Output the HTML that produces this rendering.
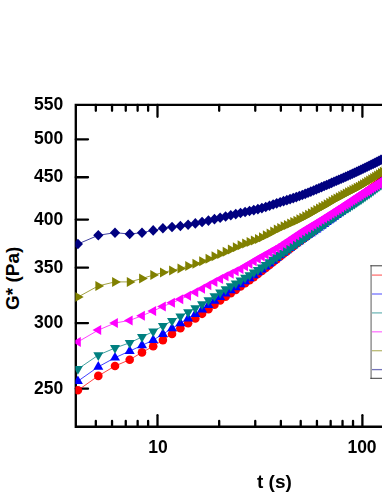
<!DOCTYPE html><html><head><meta charset="utf-8"><title>chart</title><style>
html,body{margin:0;padding:0;background:#fff;}
body{width:382px;height:494px;position:relative;overflow:hidden;font-family:"Liberation Sans",sans-serif;font-weight:bold;color:#000;}
.yl{will-change:transform;position:absolute;right:319.0px;font-size:17.5px;line-height:20px;height:20px;white-space:nowrap;}
.xl{will-change:transform;position:absolute;font-size:17.5px;line-height:20px;height:20px;white-space:nowrap;transform:translateX(-50%);}
.xt{will-change:transform;position:absolute;font-size:19px;line-height:22px;white-space:nowrap;}
.yt{position:absolute;font-size:19px;line-height:22px;white-space:nowrap;transform-origin:0 0;transform:rotate(-90deg);}
</style></head><body>
<svg width="382" height="494" viewBox="0 0 382 494" style="position:absolute;left:0;top:0">
<defs><clipPath id="c"><rect x="75.40" y="104.85" width="400" height="321.9"/></clipPath></defs>
<g stroke="#000" stroke-width="2.35" fill="none" stroke-linecap="butt">
<path d="M75.8 427.925L75.8 103.675M74.625 104.85L387 104.85M74.625 426.75L387 426.75"/>
</g>
<g stroke="#000" stroke-width="2.3" fill="none" stroke-linecap="round">
<path d="M75.8 139.37L88.0 139.37"/>
<path d="M75.8 177.26L88.0 177.26"/>
<path d="M75.8 219.61L88.0 219.61"/>
<path d="M75.8 267.63L88.0 267.63"/>
<path d="M75.8 323.06L88.0 323.06"/>
<path d="M75.8 388.63L88.0 388.63"/>
<path d="M95.82 426.75L95.82 420.95"/>
<path d="M95.82 104.85L95.82 110.75"/>
<path d="M112.04 426.75L112.04 420.95"/>
<path d="M112.04 104.85L112.04 110.75"/>
<path d="M125.76 426.75L125.76 420.95"/>
<path d="M125.76 104.85L125.76 110.75"/>
<path d="M137.64 426.75L137.64 420.95"/>
<path d="M137.64 104.85L137.64 110.75"/>
<path d="M148.12 426.75L148.12 420.95"/>
<path d="M148.12 104.85L148.12 110.75"/>
<path d="M157.50 426.75L157.50 415.15"/>
<path d="M157.50 104.85L157.50 116.75"/>
<path d="M219.18 426.75L219.18 420.95"/>
<path d="M219.18 104.85L219.18 110.75"/>
<path d="M255.26 426.75L255.26 420.95"/>
<path d="M255.26 104.85L255.26 110.75"/>
<path d="M280.86 426.75L280.86 420.95"/>
<path d="M280.86 104.85L280.86 110.75"/>
<path d="M300.72 426.75L300.72 420.95"/>
<path d="M300.72 104.85L300.72 110.75"/>
<path d="M316.94 426.75L316.94 420.95"/>
<path d="M316.94 104.85L316.94 110.75"/>
<path d="M330.66 426.75L330.66 420.95"/>
<path d="M330.66 104.85L330.66 110.75"/>
<path d="M342.54 426.75L342.54 420.95"/>
<path d="M342.54 104.85L342.54 110.75"/>
<path d="M353.02 426.75L353.02 420.95"/>
<path d="M353.02 104.85L353.02 110.75"/>
<path d="M362.40 426.75L362.40 415.15"/>
<path d="M362.40 104.85L362.40 116.75"/>
</g>
<g clip-path="url(#c)">
<path d="M77.90 390.30L98.30 375.90L115.00 366.00L129.70 359.70L142.00 352.40L153.20 346.30L162.90 340.10L172.03 333.93L180.38 328.24L188.12 323.18L195.33 318.47L202.08 313.83L208.44 309.15L214.46 304.64L220.16 300.48L225.60 296.72L230.78 293.20L235.75 289.84L240.51 286.54L245.10 283.32L249.51 280.18L253.77 277.11L257.89 274.08L261.88 271.06L265.75 268.03L269.51 265.02L273.16 262.07L276.72 259.21L280.18 256.46L283.56 253.79L286.86 251.20L290.08 248.67L293.23 246.21L296.31 243.82L299.33 241.51L302.29 239.27L305.20 237.09L308.04 234.97L310.84 232.91L313.59 230.89L316.29 228.91L318.94 226.97L321.55 225.07L324.13 223.21L326.66 221.39L329.15 219.60L331.61 217.85L334.04 216.11L336.43 214.39L338.79 212.68L341.12 210.98L343.43 209.29L345.70 207.61L347.95 205.95L350.17 204.30L352.36 202.67L354.53 201.05L356.68 199.46L358.80 197.88L360.91 196.33L362.99 194.79L365.05 193.27L367.09 191.77L369.11 190.28L371.12 188.80L373.10 187.34L375.07 185.89L377.02 184.46L378.96 183.03L380.88 181.62L382.78 180.23L384.67 178.84L386.54 177.46L388.40 176.10" fill="none" stroke="#ff0000" stroke-width="0.75"/>
<g fill="#ff0000">
<circle cx="77.90" cy="390.30" r="4.3"/>
<circle cx="98.30" cy="375.90" r="4.3"/>
<circle cx="115.00" cy="366.00" r="4.3"/>
<circle cx="129.70" cy="359.70" r="4.3"/>
<circle cx="142.00" cy="352.40" r="4.3"/>
<circle cx="153.20" cy="346.30" r="4.3"/>
<circle cx="162.90" cy="340.10" r="4.3"/>
<circle cx="172.03" cy="333.93" r="4.3"/>
<circle cx="180.38" cy="328.24" r="4.3"/>
<circle cx="188.12" cy="323.18" r="4.3"/>
<circle cx="195.33" cy="318.47" r="4.3"/>
<circle cx="202.08" cy="313.83" r="4.3"/>
<circle cx="208.44" cy="309.15" r="4.3"/>
<circle cx="214.46" cy="304.64" r="4.3"/>
<circle cx="220.16" cy="300.48" r="4.3"/>
<circle cx="225.60" cy="296.72" r="4.3"/>
<circle cx="230.78" cy="293.20" r="4.3"/>
<circle cx="235.75" cy="289.84" r="4.3"/>
<circle cx="240.51" cy="286.54" r="4.3"/>
<circle cx="245.10" cy="283.32" r="4.3"/>
<circle cx="249.51" cy="280.18" r="4.3"/>
<circle cx="253.77" cy="277.11" r="4.3"/>
<circle cx="257.89" cy="274.08" r="4.3"/>
<circle cx="261.88" cy="271.06" r="4.3"/>
<circle cx="265.75" cy="268.03" r="4.3"/>
<circle cx="269.51" cy="265.02" r="4.3"/>
<circle cx="273.16" cy="262.07" r="4.3"/>
<circle cx="276.72" cy="259.21" r="4.3"/>
<circle cx="280.18" cy="256.46" r="4.3"/>
<circle cx="283.56" cy="253.79" r="4.3"/>
<circle cx="286.86" cy="251.20" r="4.3"/>
<circle cx="290.08" cy="248.67" r="4.3"/>
<circle cx="293.23" cy="246.21" r="4.3"/>
<circle cx="296.31" cy="243.82" r="4.3"/>
<circle cx="299.33" cy="241.51" r="4.3"/>
<circle cx="302.29" cy="239.27" r="4.3"/>
<circle cx="305.20" cy="237.09" r="4.3"/>
<circle cx="308.04" cy="234.97" r="4.3"/>
<circle cx="310.84" cy="232.91" r="4.3"/>
<circle cx="313.59" cy="230.89" r="4.3"/>
<circle cx="316.29" cy="228.91" r="4.3"/>
<circle cx="318.94" cy="226.97" r="4.3"/>
<circle cx="321.55" cy="225.07" r="4.3"/>
<circle cx="324.13" cy="223.21" r="4.3"/>
<circle cx="326.66" cy="221.39" r="4.3"/>
<circle cx="329.15" cy="219.60" r="4.3"/>
<circle cx="331.61" cy="217.85" r="4.3"/>
<circle cx="334.04" cy="216.11" r="4.3"/>
<circle cx="336.43" cy="214.39" r="4.3"/>
<circle cx="338.79" cy="212.68" r="4.3"/>
<circle cx="341.12" cy="210.98" r="4.3"/>
<circle cx="343.43" cy="209.29" r="4.3"/>
<circle cx="345.70" cy="207.61" r="4.3"/>
<circle cx="347.95" cy="205.95" r="4.3"/>
<circle cx="350.17" cy="204.30" r="4.3"/>
<circle cx="352.36" cy="202.67" r="4.3"/>
<circle cx="354.53" cy="201.05" r="4.3"/>
<circle cx="356.68" cy="199.46" r="4.3"/>
<circle cx="358.80" cy="197.88" r="4.3"/>
<circle cx="360.91" cy="196.33" r="4.3"/>
<circle cx="362.99" cy="194.79" r="4.3"/>
<circle cx="365.05" cy="193.27" r="4.3"/>
<circle cx="367.09" cy="191.77" r="4.3"/>
<circle cx="369.11" cy="190.28" r="4.3"/>
<circle cx="371.12" cy="188.80" r="4.3"/>
<circle cx="373.10" cy="187.34" r="4.3"/>
<circle cx="375.07" cy="185.89" r="4.3"/>
<circle cx="377.02" cy="184.46" r="4.3"/>
<circle cx="378.96" cy="183.03" r="4.3"/>
<circle cx="380.88" cy="181.62" r="4.3"/>
<circle cx="382.78" cy="180.23" r="4.3"/>
<circle cx="384.67" cy="178.84" r="4.3"/>
<circle cx="386.54" cy="177.46" r="4.3"/>
<circle cx="388.40" cy="176.10" r="4.3"/>
</g>
<path d="M77.90 381.20L98.30 366.80L115.00 357.70L129.70 351.10L142.00 345.40L153.20 340.10L162.90 334.10L172.03 328.45L180.38 323.26L188.12 318.49L195.33 314.01L202.08 309.61L208.44 305.20L214.46 300.96L220.16 297.09L225.60 293.65L230.78 290.47L235.75 287.42L240.51 284.36L245.10 281.31L249.51 278.31L253.77 275.35L257.89 272.42L261.88 269.52L265.75 266.60L269.51 263.70L273.16 260.85L276.72 258.10L280.18 255.46L283.56 252.92L286.86 250.45L290.08 248.05L293.23 245.72L296.31 243.46L299.33 241.28L302.29 239.17L305.20 237.14L308.04 235.17L310.84 233.24L313.59 231.36L316.29 229.49L318.94 227.64L321.55 225.80L324.13 223.98L326.66 222.17L329.15 220.39L331.61 218.62L334.04 216.88L336.43 215.16L338.79 213.47L341.12 211.79L343.43 210.14L345.70 208.52L347.95 206.91L350.17 205.32L352.36 203.74L354.53 202.18L356.68 200.62L358.80 199.07L360.91 197.54L362.99 196.01L365.05 194.49L367.09 192.98L369.11 191.48L371.12 189.99L373.10 188.50L375.07 187.03L377.02 185.56L378.96 184.10L380.88 182.65L382.78 181.21L384.67 179.77L386.54 178.34L388.40 176.91" fill="none" stroke="#0000ff" stroke-width="0.75"/>
<g fill="#0000ff">
<path d="M72.90 384.10L82.90 384.10L77.90 375.40Z"/>
<path d="M93.30 369.70L103.30 369.70L98.30 361.00Z"/>
<path d="M110.00 360.60L120.00 360.60L115.00 351.90Z"/>
<path d="M124.70 354.00L134.70 354.00L129.70 345.30Z"/>
<path d="M137.00 348.30L147.00 348.30L142.00 339.60Z"/>
<path d="M148.20 343.00L158.20 343.00L153.20 334.30Z"/>
<path d="M157.90 337.00L167.90 337.00L162.90 328.30Z"/>
<path d="M167.03 331.35L177.03 331.35L172.03 322.65Z"/>
<path d="M175.38 326.16L185.38 326.16L180.38 317.46Z"/>
<path d="M183.12 321.39L193.12 321.39L188.12 312.69Z"/>
<path d="M190.33 316.91L200.33 316.91L195.33 308.21Z"/>
<path d="M197.08 312.51L207.08 312.51L202.08 303.81Z"/>
<path d="M203.44 308.10L213.44 308.10L208.44 299.40Z"/>
<path d="M209.46 303.86L219.46 303.86L214.46 295.16Z"/>
<path d="M215.16 299.99L225.16 299.99L220.16 291.29Z"/>
<path d="M220.60 296.55L230.60 296.55L225.60 287.85Z"/>
<path d="M225.78 293.37L235.78 293.37L230.78 284.67Z"/>
<path d="M230.75 290.32L240.75 290.32L235.75 281.62Z"/>
<path d="M235.51 287.26L245.51 287.26L240.51 278.56Z"/>
<path d="M240.10 284.21L250.10 284.21L245.10 275.51Z"/>
<path d="M244.51 281.21L254.51 281.21L249.51 272.51Z"/>
<path d="M248.77 278.25L258.77 278.25L253.77 269.55Z"/>
<path d="M252.89 275.32L262.89 275.32L257.89 266.62Z"/>
<path d="M256.88 272.42L266.88 272.42L261.88 263.72Z"/>
<path d="M260.75 269.50L270.75 269.50L265.75 260.80Z"/>
<path d="M264.51 266.60L274.51 266.60L269.51 257.90Z"/>
<path d="M268.16 263.75L278.16 263.75L273.16 255.05Z"/>
<path d="M271.72 261.00L281.72 261.00L276.72 252.30Z"/>
<path d="M275.18 258.36L285.18 258.36L280.18 249.66Z"/>
<path d="M278.56 255.82L288.56 255.82L283.56 247.12Z"/>
<path d="M281.86 253.35L291.86 253.35L286.86 244.65Z"/>
<path d="M285.08 250.95L295.08 250.95L290.08 242.25Z"/>
<path d="M288.23 248.62L298.23 248.62L293.23 239.92Z"/>
<path d="M291.31 246.36L301.31 246.36L296.31 237.66Z"/>
<path d="M294.33 244.18L304.33 244.18L299.33 235.48Z"/>
<path d="M297.29 242.07L307.29 242.07L302.29 233.37Z"/>
<path d="M300.20 240.04L310.20 240.04L305.20 231.34Z"/>
<path d="M303.04 238.07L313.04 238.07L308.04 229.37Z"/>
<path d="M305.84 236.14L315.84 236.14L310.84 227.44Z"/>
<path d="M308.59 234.26L318.59 234.26L313.59 225.56Z"/>
<path d="M311.29 232.39L321.29 232.39L316.29 223.69Z"/>
<path d="M313.94 230.54L323.94 230.54L318.94 221.84Z"/>
<path d="M316.55 228.70L326.55 228.70L321.55 220.00Z"/>
<path d="M319.13 226.88L329.13 226.88L324.13 218.18Z"/>
<path d="M321.66 225.07L331.66 225.07L326.66 216.37Z"/>
<path d="M324.15 223.29L334.15 223.29L329.15 214.59Z"/>
<path d="M326.61 221.52L336.61 221.52L331.61 212.82Z"/>
<path d="M329.04 219.78L339.04 219.78L334.04 211.08Z"/>
<path d="M331.43 218.06L341.43 218.06L336.43 209.36Z"/>
<path d="M333.79 216.37L343.79 216.37L338.79 207.67Z"/>
<path d="M336.12 214.69L346.12 214.69L341.12 205.99Z"/>
<path d="M338.43 213.04L348.43 213.04L343.43 204.34Z"/>
<path d="M340.70 211.42L350.70 211.42L345.70 202.72Z"/>
<path d="M342.95 209.81L352.95 209.81L347.95 201.11Z"/>
<path d="M345.17 208.22L355.17 208.22L350.17 199.52Z"/>
<path d="M347.36 206.64L357.36 206.64L352.36 197.94Z"/>
<path d="M349.53 205.08L359.53 205.08L354.53 196.38Z"/>
<path d="M351.68 203.52L361.68 203.52L356.68 194.82Z"/>
<path d="M353.80 201.97L363.80 201.97L358.80 193.27Z"/>
<path d="M355.91 200.44L365.91 200.44L360.91 191.74Z"/>
<path d="M357.99 198.91L367.99 198.91L362.99 190.21Z"/>
<path d="M360.05 197.39L370.05 197.39L365.05 188.69Z"/>
<path d="M362.09 195.88L372.09 195.88L367.09 187.18Z"/>
<path d="M364.11 194.38L374.11 194.38L369.11 185.68Z"/>
<path d="M366.12 192.89L376.12 192.89L371.12 184.19Z"/>
<path d="M368.10 191.40L378.10 191.40L373.10 182.70Z"/>
<path d="M370.07 189.93L380.07 189.93L375.07 181.23Z"/>
<path d="M372.02 188.46L382.02 188.46L377.02 179.76Z"/>
<path d="M373.96 187.00L383.96 187.00L378.96 178.30Z"/>
<path d="M375.88 185.55L385.88 185.55L380.88 176.85Z"/>
<path d="M377.78 184.11L387.78 184.11L382.78 175.41Z"/>
<path d="M379.67 182.67L389.67 182.67L384.67 173.97Z"/>
<path d="M381.54 181.24L391.54 181.24L386.54 172.54Z"/>
<path d="M383.40 179.81L393.40 179.81L388.40 171.11Z"/>
</g>
<path d="M77.90 369.00L98.30 355.10L115.00 348.00L129.70 342.80L142.00 337.00L153.20 331.50L162.90 325.80L172.03 320.80L180.38 316.29L188.12 312.13L195.33 308.20L202.08 304.23L208.44 300.09L214.46 296.06L220.16 292.40L225.60 289.15L230.78 286.15L235.75 283.30L240.51 280.49L245.10 277.76L249.51 275.11L253.77 272.51L257.89 269.94L261.88 267.38L265.75 264.81L269.51 262.25L273.16 259.73L276.72 257.27L280.18 254.87L283.56 252.53L286.86 250.23L290.08 247.97L293.23 245.75L296.31 243.59L299.33 241.47L302.29 239.39L305.20 237.36L308.04 235.37L310.84 233.41L313.59 231.49L316.29 229.60L318.94 227.74L321.55 225.91L324.13 224.09L326.66 222.30L329.15 220.53L331.61 218.80L334.04 217.10L336.43 215.43L338.79 213.82L341.12 212.25L343.43 210.73L345.70 209.27L347.95 207.83L350.17 206.42L352.36 205.03L354.53 203.63L356.68 202.23L358.80 200.81L360.91 199.38L362.99 197.93L365.05 196.49L367.09 195.04L369.11 193.59L371.12 192.14L373.10 190.69L375.07 189.23L377.02 187.78L378.96 186.32L380.88 184.86L382.78 183.40L384.67 181.94L386.54 180.47L388.40 179.01" fill="none" stroke="#008080" stroke-width="0.75"/>
<g fill="#008080">
<path d="M72.90 366.10L82.90 366.10L77.90 374.80Z"/>
<path d="M93.30 352.20L103.30 352.20L98.30 360.90Z"/>
<path d="M110.00 345.10L120.00 345.10L115.00 353.80Z"/>
<path d="M124.70 339.90L134.70 339.90L129.70 348.60Z"/>
<path d="M137.00 334.10L147.00 334.10L142.00 342.80Z"/>
<path d="M148.20 328.60L158.20 328.60L153.20 337.30Z"/>
<path d="M157.90 322.90L167.90 322.90L162.90 331.60Z"/>
<path d="M167.03 317.90L177.03 317.90L172.03 326.60Z"/>
<path d="M175.38 313.39L185.38 313.39L180.38 322.09Z"/>
<path d="M183.12 309.23L193.12 309.23L188.12 317.93Z"/>
<path d="M190.33 305.30L200.33 305.30L195.33 314.00Z"/>
<path d="M197.08 301.33L207.08 301.33L202.08 310.03Z"/>
<path d="M203.44 297.19L213.44 297.19L208.44 305.89Z"/>
<path d="M209.46 293.16L219.46 293.16L214.46 301.86Z"/>
<path d="M215.16 289.50L225.16 289.50L220.16 298.20Z"/>
<path d="M220.60 286.25L230.60 286.25L225.60 294.95Z"/>
<path d="M225.78 283.25L235.78 283.25L230.78 291.95Z"/>
<path d="M230.75 280.40L240.75 280.40L235.75 289.10Z"/>
<path d="M235.51 277.59L245.51 277.59L240.51 286.29Z"/>
<path d="M240.10 274.86L250.10 274.86L245.10 283.56Z"/>
<path d="M244.51 272.21L254.51 272.21L249.51 280.91Z"/>
<path d="M248.77 269.61L258.77 269.61L253.77 278.31Z"/>
<path d="M252.89 267.04L262.89 267.04L257.89 275.74Z"/>
<path d="M256.88 264.48L266.88 264.48L261.88 273.18Z"/>
<path d="M260.75 261.91L270.75 261.91L265.75 270.61Z"/>
<path d="M264.51 259.35L274.51 259.35L269.51 268.05Z"/>
<path d="M268.16 256.83L278.16 256.83L273.16 265.53Z"/>
<path d="M271.72 254.37L281.72 254.37L276.72 263.07Z"/>
<path d="M275.18 251.97L285.18 251.97L280.18 260.67Z"/>
<path d="M278.56 249.63L288.56 249.63L283.56 258.33Z"/>
<path d="M281.86 247.33L291.86 247.33L286.86 256.03Z"/>
<path d="M285.08 245.07L295.08 245.07L290.08 253.77Z"/>
<path d="M288.23 242.85L298.23 242.85L293.23 251.55Z"/>
<path d="M291.31 240.69L301.31 240.69L296.31 249.39Z"/>
<path d="M294.33 238.57L304.33 238.57L299.33 247.27Z"/>
<path d="M297.29 236.49L307.29 236.49L302.29 245.19Z"/>
<path d="M300.20 234.46L310.20 234.46L305.20 243.16Z"/>
<path d="M303.04 232.47L313.04 232.47L308.04 241.17Z"/>
<path d="M305.84 230.51L315.84 230.51L310.84 239.21Z"/>
<path d="M308.59 228.59L318.59 228.59L313.59 237.29Z"/>
<path d="M311.29 226.70L321.29 226.70L316.29 235.40Z"/>
<path d="M313.94 224.84L323.94 224.84L318.94 233.54Z"/>
<path d="M316.55 223.01L326.55 223.01L321.55 231.71Z"/>
<path d="M319.13 221.19L329.13 221.19L324.13 229.89Z"/>
<path d="M321.66 219.40L331.66 219.40L326.66 228.10Z"/>
<path d="M324.15 217.63L334.15 217.63L329.15 226.33Z"/>
<path d="M326.61 215.90L336.61 215.90L331.61 224.60Z"/>
<path d="M329.04 214.20L339.04 214.20L334.04 222.90Z"/>
<path d="M331.43 212.53L341.43 212.53L336.43 221.23Z"/>
<path d="M333.79 210.92L343.79 210.92L338.79 219.62Z"/>
<path d="M336.12 209.35L346.12 209.35L341.12 218.05Z"/>
<path d="M338.43 207.83L348.43 207.83L343.43 216.53Z"/>
<path d="M340.70 206.37L350.70 206.37L345.70 215.07Z"/>
<path d="M342.95 204.93L352.95 204.93L347.95 213.63Z"/>
<path d="M345.17 203.52L355.17 203.52L350.17 212.22Z"/>
<path d="M347.36 202.13L357.36 202.13L352.36 210.83Z"/>
<path d="M349.53 200.73L359.53 200.73L354.53 209.43Z"/>
<path d="M351.68 199.33L361.68 199.33L356.68 208.03Z"/>
<path d="M353.80 197.91L363.80 197.91L358.80 206.61Z"/>
<path d="M355.91 196.48L365.91 196.48L360.91 205.18Z"/>
<path d="M357.99 195.03L367.99 195.03L362.99 203.73Z"/>
<path d="M360.05 193.59L370.05 193.59L365.05 202.29Z"/>
<path d="M362.09 192.14L372.09 192.14L367.09 200.84Z"/>
<path d="M364.11 190.69L374.11 190.69L369.11 199.39Z"/>
<path d="M366.12 189.24L376.12 189.24L371.12 197.94Z"/>
<path d="M368.10 187.79L378.10 187.79L373.10 196.49Z"/>
<path d="M370.07 186.33L380.07 186.33L375.07 195.03Z"/>
<path d="M372.02 184.88L382.02 184.88L377.02 193.58Z"/>
<path d="M373.96 183.42L383.96 183.42L378.96 192.12Z"/>
<path d="M375.88 181.96L385.88 181.96L380.88 190.66Z"/>
<path d="M377.78 180.50L387.78 180.50L382.78 189.20Z"/>
<path d="M379.67 179.04L389.67 179.04L384.67 187.74Z"/>
<path d="M381.54 177.57L391.54 177.57L386.54 186.27Z"/>
<path d="M383.40 176.11L393.40 176.11L388.40 184.81Z"/>
</g>
<path d="M77.90 341.90L98.30 330.10L115.00 323.00L129.70 320.40L142.00 315.70L153.20 311.00L162.90 306.50L172.03 302.78L180.38 299.33L188.12 295.73L195.33 292.17L202.08 288.72L208.44 285.27L214.46 281.95L220.16 278.92L225.60 276.24L230.78 273.77L235.75 271.37L240.51 268.93L245.10 266.37L249.51 263.79L253.77 261.25L257.89 258.82L261.88 256.53L265.75 254.38L269.51 252.32L273.16 250.29L276.72 248.26L280.18 246.19L283.56 244.05L286.86 241.85L290.08 239.66L293.23 237.50L296.31 235.41L299.33 233.43L302.29 231.56L305.20 229.77L308.04 228.04L310.84 226.35L313.59 224.71L316.29 223.08L318.94 221.45L321.55 219.84L324.13 218.23L326.66 216.65L329.15 215.08L331.61 213.53L334.04 212.00L336.43 210.48L338.79 208.97L341.12 207.48L343.43 205.99L345.70 204.51L347.95 203.05L350.17 201.59L352.36 200.16L354.53 198.74L356.68 197.34L358.80 195.97L360.91 194.62L362.99 193.29L365.05 191.97L367.09 190.68L369.11 189.39L371.12 188.12L373.10 186.87L375.07 185.63L377.02 184.41L378.96 183.20L380.88 182.00L382.78 180.81L384.67 179.64L386.54 178.48L388.40 177.33" fill="none" stroke="#ff00ff" stroke-width="0.75"/>
<g fill="#ff00ff">
<path d="M80.80 336.90L80.80 346.90L72.10 341.90Z"/>
<path d="M101.20 325.10L101.20 335.10L92.50 330.10Z"/>
<path d="M117.90 318.00L117.90 328.00L109.20 323.00Z"/>
<path d="M132.60 315.40L132.60 325.40L123.90 320.40Z"/>
<path d="M144.90 310.70L144.90 320.70L136.20 315.70Z"/>
<path d="M156.10 306.00L156.10 316.00L147.40 311.00Z"/>
<path d="M165.80 301.50L165.80 311.50L157.10 306.50Z"/>
<path d="M174.93 297.78L174.93 307.78L166.23 302.78Z"/>
<path d="M183.28 294.33L183.28 304.33L174.58 299.33Z"/>
<path d="M191.02 290.73L191.02 300.73L182.32 295.73Z"/>
<path d="M198.23 287.17L198.23 297.17L189.53 292.17Z"/>
<path d="M204.98 283.72L204.98 293.72L196.28 288.72Z"/>
<path d="M211.34 280.27L211.34 290.27L202.64 285.27Z"/>
<path d="M217.36 276.95L217.36 286.95L208.66 281.95Z"/>
<path d="M223.06 273.92L223.06 283.92L214.36 278.92Z"/>
<path d="M228.50 271.24L228.50 281.24L219.80 276.24Z"/>
<path d="M233.68 268.77L233.68 278.77L224.98 273.77Z"/>
<path d="M238.65 266.37L238.65 276.37L229.95 271.37Z"/>
<path d="M243.41 263.93L243.41 273.93L234.71 268.93Z"/>
<path d="M248.00 261.37L248.00 271.37L239.30 266.37Z"/>
<path d="M252.41 258.79L252.41 268.79L243.71 263.79Z"/>
<path d="M256.67 256.25L256.67 266.25L247.97 261.25Z"/>
<path d="M260.79 253.82L260.79 263.82L252.09 258.82Z"/>
<path d="M264.78 251.53L264.78 261.53L256.08 256.53Z"/>
<path d="M268.65 249.38L268.65 259.38L259.95 254.38Z"/>
<path d="M272.41 247.32L272.41 257.32L263.71 252.32Z"/>
<path d="M276.06 245.29L276.06 255.29L267.36 250.29Z"/>
<path d="M279.62 243.26L279.62 253.26L270.92 248.26Z"/>
<path d="M283.08 241.19L283.08 251.19L274.38 246.19Z"/>
<path d="M286.46 239.05L286.46 249.05L277.76 244.05Z"/>
<path d="M289.76 236.85L289.76 246.85L281.06 241.85Z"/>
<path d="M292.98 234.66L292.98 244.66L284.28 239.66Z"/>
<path d="M296.13 232.50L296.13 242.50L287.43 237.50Z"/>
<path d="M299.21 230.41L299.21 240.41L290.51 235.41Z"/>
<path d="M302.23 228.43L302.23 238.43L293.53 233.43Z"/>
<path d="M305.19 226.56L305.19 236.56L296.49 231.56Z"/>
<path d="M308.10 224.77L308.10 234.77L299.40 229.77Z"/>
<path d="M310.94 223.04L310.94 233.04L302.24 228.04Z"/>
<path d="M313.74 221.35L313.74 231.35L305.04 226.35Z"/>
<path d="M316.49 219.71L316.49 229.71L307.79 224.71Z"/>
<path d="M319.19 218.08L319.19 228.08L310.49 223.08Z"/>
<path d="M321.84 216.45L321.84 226.45L313.14 221.45Z"/>
<path d="M324.45 214.82L324.45 224.86L315.75 219.84Z"/>
<path d="M327.03 213.18L327.03 223.29L318.33 218.23Z"/>
<path d="M329.56 211.56L329.56 221.74L320.86 216.65Z"/>
<path d="M332.05 209.96L332.05 220.20L323.35 215.08Z"/>
<path d="M334.51 208.38L334.51 218.68L325.81 213.53Z"/>
<path d="M336.94 206.82L336.94 217.18L328.24 212.00Z"/>
<path d="M339.33 205.26L339.33 215.69L330.63 210.48Z"/>
<path d="M341.69 203.73L341.69 214.21L332.99 208.97Z"/>
<path d="M344.02 202.21L344.02 212.75L335.32 207.48Z"/>
<path d="M346.33 200.69L346.33 211.29L337.63 205.99Z"/>
<path d="M348.60 199.18L348.60 209.85L339.90 204.51Z"/>
<path d="M350.85 197.69L350.85 208.41L342.15 203.05Z"/>
<path d="M353.07 196.20L353.07 206.98L344.37 201.59Z"/>
<path d="M355.26 194.74L355.26 205.57L346.56 200.16Z"/>
<path d="M357.43 193.29L357.43 204.18L348.73 198.74Z"/>
<path d="M359.58 191.87L359.58 202.82L350.88 197.34Z"/>
<path d="M361.70 190.47L361.70 201.47L353.00 195.97Z"/>
<path d="M363.81 189.09L363.81 200.15L355.11 194.62Z"/>
<path d="M365.89 187.73L365.89 198.84L357.19 193.29Z"/>
<path d="M367.95 186.39L367.95 197.55L359.25 191.97Z"/>
<path d="M369.99 185.07L369.99 196.28L361.29 190.68Z"/>
<path d="M372.01 183.76L372.01 195.03L363.31 189.39Z"/>
<path d="M374.02 182.46L374.02 193.78L365.32 188.12Z"/>
<path d="M376.00 181.19L376.00 192.56L367.30 186.87Z"/>
<path d="M377.97 179.92L377.97 191.34L369.27 185.63Z"/>
<path d="M379.92 178.67L379.92 190.14L371.22 184.41Z"/>
<path d="M381.86 177.44L381.86 188.96L373.16 183.20Z"/>
<path d="M383.78 176.21L383.78 187.78L375.08 182.00Z"/>
<path d="M385.68 175.01L385.68 186.61L376.98 180.81Z"/>
<path d="M387.57 173.84L387.57 185.44L378.87 179.64Z"/>
<path d="M389.44 172.68L389.44 184.28L380.74 178.48Z"/>
<path d="M391.30 171.53L391.30 183.13L382.60 177.33Z"/>
</g>
<path d="M77.90 297.10L98.30 285.90L115.00 281.90L129.70 281.90L142.00 278.50L153.20 275.10L162.90 272.50L172.03 270.41L180.38 268.40L188.12 266.08L195.33 263.66L202.08 261.24L208.44 258.76L214.46 256.30L220.16 253.93L225.60 251.63L230.78 249.38L235.75 247.25L240.51 245.30L245.10 243.57L249.51 242.00L253.77 240.46L257.89 238.88L261.88 237.16L265.75 235.30L269.51 233.38L273.16 231.46L276.72 229.62L280.18 227.91L283.56 226.35L286.86 224.88L290.08 223.46L293.23 222.07L296.31 220.67L299.33 219.23L302.29 217.74L305.20 216.22L308.04 214.69L310.84 213.14L313.59 211.61L316.29 210.09L318.94 208.59L321.55 207.12L324.13 205.65L326.66 204.18L329.15 202.72L331.61 201.28L334.04 199.87L336.43 198.50L338.79 197.17L341.12 195.89L343.43 194.67L345.70 193.49L347.95 192.34L350.17 191.22L352.36 190.10L354.53 188.97L356.68 187.83L358.80 186.67L360.91 185.48L362.99 184.28L365.05 183.06L367.09 181.84L369.11 180.61L371.12 179.37L373.10 178.12L375.07 176.86L377.02 175.60L378.96 174.33L380.88 173.05L382.78 171.77L384.67 170.48L386.54 169.19L388.40 167.89" fill="none" stroke="#808000" stroke-width="0.75"/>
<g fill="#808000">
<path d="M75.00 292.10L75.00 302.10L83.70 297.10Z"/>
<path d="M95.40 280.90L95.40 290.90L104.10 285.90Z"/>
<path d="M112.10 276.90L112.10 286.90L120.80 281.90Z"/>
<path d="M126.80 276.90L126.80 286.90L135.50 281.90Z"/>
<path d="M139.10 273.50L139.10 283.50L147.80 278.50Z"/>
<path d="M150.30 270.10L150.30 280.10L159.00 275.10Z"/>
<path d="M160.00 267.50L160.00 277.50L168.70 272.50Z"/>
<path d="M169.13 265.41L169.13 275.41L177.83 270.41Z"/>
<path d="M177.48 263.40L177.48 273.40L186.18 268.40Z"/>
<path d="M185.22 261.08L185.22 271.08L193.92 266.08Z"/>
<path d="M192.43 258.66L192.43 268.66L201.13 263.66Z"/>
<path d="M199.18 256.24L199.18 266.24L207.88 261.24Z"/>
<path d="M205.54 253.76L205.54 263.76L214.24 258.76Z"/>
<path d="M211.56 251.30L211.56 261.30L220.26 256.30Z"/>
<path d="M217.26 248.93L217.26 258.93L225.96 253.93Z"/>
<path d="M222.70 246.63L222.70 256.63L231.40 251.63Z"/>
<path d="M227.88 244.38L227.88 254.38L236.58 249.38Z"/>
<path d="M232.85 242.25L232.85 252.25L241.55 247.25Z"/>
<path d="M237.61 240.30L237.61 250.30L246.31 245.30Z"/>
<path d="M242.20 238.57L242.20 248.57L250.90 243.57Z"/>
<path d="M246.61 237.00L246.61 247.00L255.31 242.00Z"/>
<path d="M250.87 235.46L250.87 245.46L259.57 240.46Z"/>
<path d="M254.99 233.88L254.99 243.88L263.69 238.88Z"/>
<path d="M258.98 232.16L258.98 242.16L267.68 237.16Z"/>
<path d="M262.85 230.30L262.85 240.30L271.55 235.30Z"/>
<path d="M266.61 228.38L266.61 238.38L275.31 233.38Z"/>
<path d="M270.26 226.46L270.26 236.46L278.96 231.46Z"/>
<path d="M273.82 224.62L273.82 234.62L282.52 229.62Z"/>
<path d="M277.28 222.91L277.28 232.91L285.98 227.91Z"/>
<path d="M280.66 221.35L280.66 231.35L289.36 226.35Z"/>
<path d="M283.96 219.88L283.96 229.88L292.66 224.88Z"/>
<path d="M287.18 218.46L287.18 228.46L295.88 223.46Z"/>
<path d="M290.33 217.07L290.33 227.07L299.03 222.07Z"/>
<path d="M293.41 215.67L293.41 225.67L302.11 220.67Z"/>
<path d="M296.43 214.23L296.43 224.23L305.13 219.23Z"/>
<path d="M299.39 212.74L299.39 222.74L308.09 217.74Z"/>
<path d="M302.30 211.22L302.30 221.22L311.00 216.22Z"/>
<path d="M305.14 209.69L305.14 219.69L313.84 214.69Z"/>
<path d="M307.94 208.14L307.94 218.14L316.64 213.14Z"/>
<path d="M310.69 206.61L310.69 216.61L319.39 211.61Z"/>
<path d="M313.39 205.09L313.39 215.09L322.09 210.09Z"/>
<path d="M316.04 203.59L316.04 213.59L324.74 208.59Z"/>
<path d="M318.65 202.12L318.65 212.12L327.35 207.12Z"/>
<path d="M321.23 200.65L321.23 210.65L329.93 205.65Z"/>
<path d="M323.76 199.18L323.76 209.18L332.46 204.18Z"/>
<path d="M326.25 197.72L326.25 207.72L334.95 202.72Z"/>
<path d="M328.71 196.28L328.71 206.28L337.41 201.28Z"/>
<path d="M331.14 194.87L331.14 204.87L339.84 199.87Z"/>
<path d="M333.53 193.50L333.53 203.50L342.23 198.50Z"/>
<path d="M335.89 192.17L335.89 202.17L344.59 197.17Z"/>
<path d="M338.22 190.89L338.22 200.89L346.92 195.89Z"/>
<path d="M340.53 189.67L340.53 199.67L349.23 194.67Z"/>
<path d="M342.80 188.49L342.80 198.49L351.50 193.49Z"/>
<path d="M345.05 187.34L345.05 197.34L353.75 192.34Z"/>
<path d="M347.27 186.22L347.27 196.22L355.97 191.22Z"/>
<path d="M349.46 185.10L349.46 195.10L358.16 190.10Z"/>
<path d="M351.63 183.97L351.63 193.97L360.33 188.97Z"/>
<path d="M353.78 182.83L353.78 192.83L362.48 187.83Z"/>
<path d="M355.90 181.67L355.90 191.67L364.60 186.67Z"/>
<path d="M358.01 180.48L358.01 190.48L366.71 185.48Z"/>
<path d="M360.09 179.28L360.09 189.28L368.79 184.28Z"/>
<path d="M362.15 178.06L362.15 188.06L370.85 183.06Z"/>
<path d="M364.19 176.84L364.19 186.84L372.89 181.84Z"/>
<path d="M366.21 175.61L366.21 185.61L374.91 180.61Z"/>
<path d="M368.22 174.37L368.22 184.37L376.92 179.37Z"/>
<path d="M370.20 173.12L370.20 183.12L378.90 178.12Z"/>
<path d="M372.17 171.86L372.17 181.86L380.87 176.86Z"/>
<path d="M374.12 170.60L374.12 180.60L382.82 175.60Z"/>
<path d="M376.06 169.33L376.06 179.33L384.76 174.33Z"/>
<path d="M377.98 168.05L377.98 178.05L386.68 173.05Z"/>
<path d="M379.88 166.77L379.88 176.77L388.58 171.77Z"/>
<path d="M381.77 165.48L381.77 175.48L390.47 170.48Z"/>
<path d="M383.64 164.19L383.64 174.19L392.34 169.19Z"/>
<path d="M385.50 162.89L385.50 172.89L394.20 167.89Z"/>
</g>
<path d="M77.90 244.00L98.30 235.30L115.00 232.70L129.70 234.00L142.00 232.70L153.20 230.40L162.90 228.30L172.03 227.04L180.38 225.94L188.12 224.70L195.33 223.41L202.08 222.07L208.44 220.61L214.46 219.14L220.16 217.76L225.60 216.48L230.78 215.25L235.75 214.09L240.51 212.98L245.10 211.98L249.51 211.04L253.77 210.11L257.89 209.14L261.88 208.09L265.75 206.95L269.51 205.75L273.16 204.55L276.72 203.37L280.18 202.24L283.56 201.17L286.86 200.14L290.08 199.12L293.23 198.11L296.31 197.08L299.33 196.04L302.29 194.96L305.20 193.85L308.04 192.73L310.84 191.60L313.59 190.47L316.29 189.34L318.94 188.24L321.55 187.15L324.13 186.07L326.66 185.00L329.15 183.93L331.61 182.87L334.04 181.81L336.43 180.77L338.79 179.73L341.12 178.71L343.43 177.69L345.70 176.69L347.95 175.69L350.17 174.70L352.36 173.72L354.53 172.73L356.68 171.75L358.80 170.76L360.91 169.77L362.99 168.78L365.05 167.79L367.09 166.80L369.11 165.81L371.12 164.82L373.10 163.83L375.07 162.85L377.02 161.86L378.96 160.87L380.88 159.88L382.78 158.89L384.67 157.91L386.54 156.92L388.40 155.93" fill="none" stroke="#000080" stroke-width="0.75"/>
<g fill="#000080">
<path d="M72.80 244.00L77.90 238.70L83.00 244.00L77.90 249.30Z"/>
<path d="M93.20 235.30L98.30 230.00L103.40 235.30L98.30 240.60Z"/>
<path d="M109.90 232.70L115.00 227.40L120.10 232.70L115.00 238.00Z"/>
<path d="M124.60 234.00L129.70 228.70L134.80 234.00L129.70 239.30Z"/>
<path d="M136.90 232.70L142.00 227.40L147.10 232.70L142.00 238.00Z"/>
<path d="M148.10 230.40L153.20 225.10L158.30 230.40L153.20 235.70Z"/>
<path d="M157.80 228.30L162.90 223.00L168.00 228.30L162.90 233.60Z"/>
<path d="M166.93 227.04L172.03 221.74L177.13 227.04L172.03 232.34Z"/>
<path d="M175.28 225.94L180.38 220.64L185.48 225.94L180.38 231.24Z"/>
<path d="M183.02 224.70L188.12 219.40L193.22 224.70L188.12 230.00Z"/>
<path d="M190.23 223.41L195.33 218.11L200.43 223.41L195.33 228.71Z"/>
<path d="M196.98 222.07L202.08 216.77L207.18 222.07L202.08 227.37Z"/>
<path d="M203.34 220.61L208.44 215.31L213.54 220.61L208.44 225.91Z"/>
<path d="M209.36 219.14L214.46 213.84L219.56 219.14L214.46 224.44Z"/>
<path d="M215.06 217.76L220.16 212.46L225.26 217.76L220.16 223.06Z"/>
<path d="M220.50 216.48L225.60 211.18L230.70 216.48L225.60 221.78Z"/>
<path d="M225.68 215.25L230.78 209.95L235.88 215.25L230.78 220.55Z"/>
<path d="M230.65 214.09L235.75 208.79L240.85 214.09L235.75 219.39Z"/>
<path d="M235.41 212.98L240.51 207.68L245.61 212.98L240.51 218.28Z"/>
<path d="M240.00 211.98L245.10 206.68L250.20 211.98L245.10 217.28Z"/>
<path d="M244.41 211.04L249.51 205.74L254.61 211.04L249.51 216.34Z"/>
<path d="M248.67 210.11L253.77 204.81L258.87 210.11L253.77 215.41Z"/>
<path d="M252.79 209.14L257.89 203.84L262.99 209.14L257.89 214.44Z"/>
<path d="M256.78 208.09L261.88 202.79L266.98 208.09L261.88 213.39Z"/>
<path d="M260.65 206.95L265.75 201.65L270.85 206.95L265.75 212.25Z"/>
<path d="M264.41 205.75L269.51 200.45L274.61 205.75L269.51 211.05Z"/>
<path d="M268.06 204.55L273.16 199.25L278.26 204.55L273.16 209.85Z"/>
<path d="M271.62 203.37L276.72 198.07L281.82 203.37L276.72 208.67Z"/>
<path d="M275.08 202.24L280.18 196.94L285.28 202.24L280.18 207.54Z"/>
<path d="M278.46 201.17L283.56 195.87L288.66 201.17L283.56 206.47Z"/>
<path d="M281.76 200.14L286.86 194.84L291.96 200.14L286.86 205.44Z"/>
<path d="M284.98 199.12L290.08 193.82L295.18 199.12L290.08 204.42Z"/>
<path d="M288.13 198.11L293.23 192.81L298.33 198.11L293.23 203.41Z"/>
<path d="M291.21 197.08L296.31 191.78L301.41 197.08L296.31 202.38Z"/>
<path d="M294.23 196.04L299.33 190.74L304.43 196.04L299.33 201.34Z"/>
<path d="M297.19 194.96L302.29 189.66L307.39 194.96L302.29 200.26Z"/>
<path d="M300.10 193.85L305.20 188.55L310.30 193.85L305.20 199.15Z"/>
<path d="M302.94 192.73L308.04 187.43L313.14 192.73L308.04 198.03Z"/>
<path d="M305.74 191.60L310.84 186.30L315.94 191.60L310.84 196.90Z"/>
<path d="M308.49 190.47L313.59 185.17L318.69 190.47L313.59 195.77Z"/>
<path d="M311.19 189.34L316.29 184.04L321.39 189.34L316.29 194.64Z"/>
<path d="M313.84 188.24L318.94 182.94L324.04 188.24L318.94 193.54Z"/>
<path d="M316.45 187.15L321.55 181.85L326.65 187.15L321.55 192.45Z"/>
<path d="M319.03 186.07L324.13 180.77L329.23 186.07L324.13 191.37Z"/>
<path d="M321.56 185.00L326.66 179.70L331.76 185.00L326.66 190.30Z"/>
<path d="M324.05 183.93L329.15 178.63L334.25 183.93L329.15 189.23Z"/>
<path d="M326.51 182.87L331.61 177.57L336.71 182.87L331.61 188.17Z"/>
<path d="M328.94 181.81L334.04 176.51L339.14 181.81L334.04 187.11Z"/>
<path d="M331.33 180.77L336.43 175.47L341.53 180.77L336.43 186.07Z"/>
<path d="M333.69 179.73L338.79 174.43L343.89 179.73L338.79 185.03Z"/>
<path d="M336.02 178.71L341.12 173.41L346.22 178.71L341.12 184.01Z"/>
<path d="M338.33 177.69L343.43 172.39L348.53 177.69L343.43 182.99Z"/>
<path d="M340.60 176.69L345.70 171.39L350.80 176.69L345.70 181.99Z"/>
<path d="M342.85 175.69L347.95 170.39L353.05 175.69L347.95 180.99Z"/>
<path d="M345.07 174.70L350.17 169.40L355.27 174.70L350.17 180.00Z"/>
<path d="M347.26 173.72L352.36 168.42L357.46 173.72L352.36 179.02Z"/>
<path d="M349.43 172.73L354.53 167.43L359.63 172.73L354.53 178.03Z"/>
<path d="M351.58 171.75L356.68 166.45L361.78 171.75L356.68 177.05Z"/>
<path d="M353.70 170.76L358.80 165.46L363.90 170.76L358.80 176.06Z"/>
<path d="M355.81 169.77L360.91 164.47L366.01 169.77L360.91 175.07Z"/>
<path d="M357.89 168.78L362.99 163.48L368.09 168.78L362.99 174.08Z"/>
<path d="M359.95 167.79L365.05 162.49L370.15 167.79L365.05 173.09Z"/>
<path d="M361.99 166.80L367.09 161.50L372.19 166.80L367.09 172.10Z"/>
<path d="M364.01 165.81L369.11 160.51L374.21 165.81L369.11 171.11Z"/>
<path d="M366.02 164.82L371.12 159.52L376.22 164.82L371.12 170.12Z"/>
<path d="M368.00 163.83L373.10 158.53L378.20 163.83L373.10 169.13Z"/>
<path d="M369.97 162.85L375.07 157.55L380.17 162.85L375.07 168.15Z"/>
<path d="M371.92 161.86L377.02 156.56L382.12 161.86L377.02 167.16Z"/>
<path d="M373.86 160.87L378.96 155.57L384.06 160.87L378.96 166.17Z"/>
<path d="M375.78 159.88L380.88 154.58L385.98 159.88L380.88 165.18Z"/>
<path d="M377.68 158.89L382.78 153.59L387.88 158.89L382.78 164.19Z"/>
<path d="M379.57 157.91L384.67 152.61L389.77 157.91L384.67 163.21Z"/>
<path d="M381.44 156.92L386.54 151.62L391.64 156.92L386.54 162.22Z"/>
<path d="M383.30 155.93L388.40 150.63L393.50 155.93L388.40 161.23Z"/>
</g>
</g>
<rect x="370.40000000000003" y="265.2" width="30" height="113.7" fill="#fff"/>
<path d="M371.1 378.90000000000003L371.1 265.2" stroke="#8a8a8a" stroke-width="1.4" fill="none"/>
<path d="M370.40000000000003 265.8L384 265.8M370.40000000000003 378.3L384 378.3" stroke="#3a3a3a" stroke-width="1.0" fill="none"/>
<path d="M372.0 275.10L384 275.10" stroke="#ff0000" stroke-width="1.3" stroke-opacity="0.55"/>
<path d="M372.0 294.00L384 294.00" stroke="#0000ff" stroke-width="1.3" stroke-opacity="0.55"/>
<path d="M372.0 312.90L384 312.90" stroke="#008080" stroke-width="1.3" stroke-opacity="0.55"/>
<path d="M372.0 331.80L384 331.80" stroke="#ff00ff" stroke-width="1.3" stroke-opacity="0.55"/>
<path d="M372.0 350.70L384 350.70" stroke="#808000" stroke-width="1.3" stroke-opacity="0.55"/>
<path d="M372.0 369.60L384 369.60" stroke="#000080" stroke-width="1.3" stroke-opacity="0.55"/>
</svg>
<div class="yl" style="top:94.1px">550</div>
<div class="yl" style="top:128.4px">500</div>
<div class="yl" style="top:166.3px">450</div>
<div class="yl" style="top:208.6px">400</div>
<div class="yl" style="top:256.6px">350</div>
<div class="yl" style="top:312.1px">300</div>
<div class="yl" style="top:377.6px">250</div>
<div class="xl" style="left:157.7px;top:436.5px">10</div>
<div class="xl" style="left:362.1px;top:436.5px">100</div>
<div class="xt" style="left:257px;top:471px">t (s)</div>
<div class="yt" style="left:1.9px;top:310px">G* (Pa)</div>
</body></html>
